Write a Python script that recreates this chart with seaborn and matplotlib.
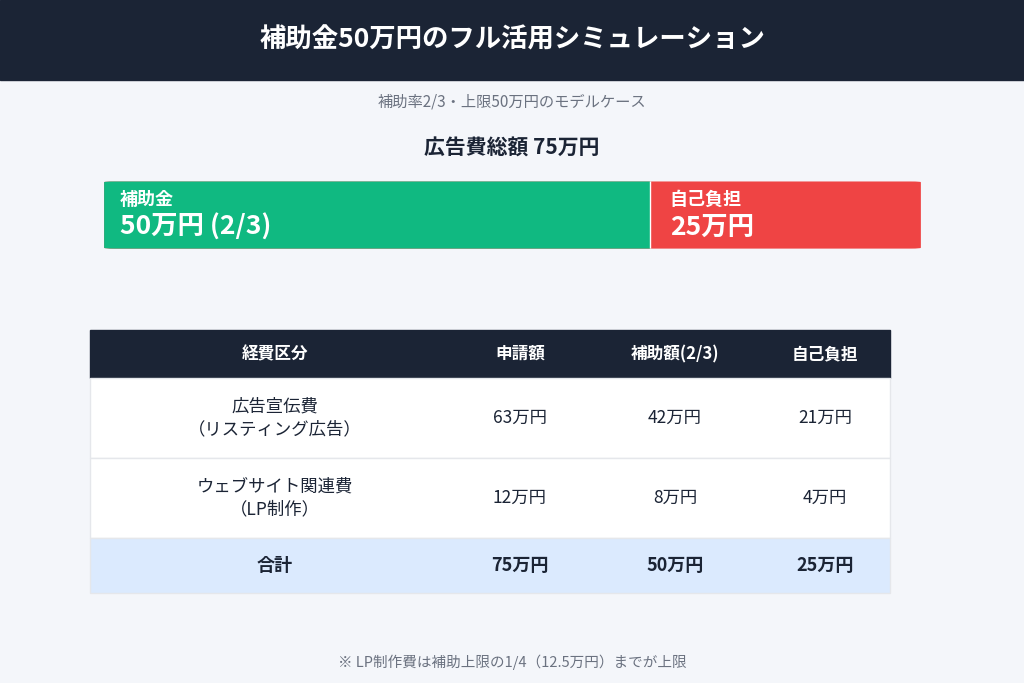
import matplotlib
matplotlib.use("Agg")
import matplotlib.pyplot as plt
import seaborn as sns
from matplotlib.patches import Rectangle, FancyBboxPatch

sns.set_theme(style="white")
plt.rcParams['font.family'] = ['Noto Sans CJK JP', 'DejaVu Sans']

title = "補助金50万円のフル活用シミュレーション"
subtitle = "補助率2/3・上限50万円のモデルケース"
total_label = "広告費総額 75万円"
seg_names = ["補助金", "自己負担"]
seg_values = [50, 25]
seg_texts = ["50万円 (2/3)", "25万円"]
headers = ["経費区分", "申請額", "補助額(2/3)", "自己負担"]
rows = [["広告宣伝費\n（リスティング広告）", "63万円", "42万円", "21万円"],
        ["ウェブサイト関連費\n（LP制作）", "12万円", "8万円", "4万円"],
        ["合計", "75万円", "50万円", "25万円"]]
note = "※ LP制作費は補助上限の1/4（12.5万円）までが上限"

BG = "#f4f6fa"; DARK = "#1b2435"; GREEN = "#10b981"; RED = "#ef4444"
fig = plt.figure(figsize=(10.24, 6.83), dpi=100, facecolor=BG)
ax = fig.add_axes([0, 0, 1, 1]); ax.set_xlim(0, 1024); ax.set_ylim(683, 0); ax.axis("off")

ax.add_patch(Rectangle((0, 0), 1024, 80, color=DARK))
ax.text(512, 40, title, color="white", fontsize=19, fontweight="bold", ha="center", va="center")
ax.text(512, 102, subtitle, color="#6b7280", fontsize=11, ha="center", va="center")
ax.text(512, 148, total_label, color=DARK, fontsize=15, fontweight="bold", ha="center", va="center")

# stacked bar
bx = fig.add_axes([100/1024, 1-250/683, 825/1024, 70/683]); bx.axis("off")
bx.set_facecolor("none")
sns.barplot(x=[sum(seg_values)], y=[0], color=RED, orient="h", width=1, ax=bx, saturation=1)
sns.barplot(x=[seg_values[0]], y=[0], color=GREEN, orient="h", width=1, ax=bx, saturation=1)
bx.set_xlim(0, sum(seg_values)); bx.set_ylim(0.5, -0.5)
clip = FancyBboxPatch((0.005, 0.02), 0.99, 0.96, boxstyle="round,pad=0,rounding_size=0.012",
                      transform=bx.transAxes, facecolor="none", edgecolor="none")
bx.add_patch(clip)
for p in bx.patches[:-1]:
    p.set_clip_path(clip)
start = 0
for n, v, t in zip(seg_names, seg_values, seg_texts):
    bx.text(start + 1.8 if start == 0 else start + 1.8, -0.22, n, color="white", fontsize=13, fontweight="bold", va="center")
    bx.text(start + 1.8, 0.17, t, color="white", fontsize=19, fontweight="bold", va="center")
    start += v

# table
cx = [275, 520, 675, 825]
ax.add_patch(Rectangle((90, 330), 800, 48, color=DARK))
for x, h in zip(cx, headers):
    ax.text(x, 354, h, color="white", fontsize=12, fontweight="bold", ha="center", va="center")
ys = [(378, 80), (458, 80), (538, 55)]
for i, (r, (y0, hh)) in enumerate(zip(rows, ys)):
    last = i == len(rows) - 1
    ax.add_patch(Rectangle((90, y0), 800, hh, facecolor="#dbeafe" if last else "white",
                           edgecolor="#e5e7eb", lw=1))
    for x, t in zip(cx, r):
        ax.text(x, y0 + hh/2, t, color=DARK, fontsize=12.5 if not last else 13,
                fontweight="bold" if last else "normal", ha="center", va="center", linespacing=1.4)
ax.text(512, 662, note, color="#6b7280", fontsize=10.5, ha="center", va="center")
fig.savefig("out.png", dpi=100, facecolor=BG)
